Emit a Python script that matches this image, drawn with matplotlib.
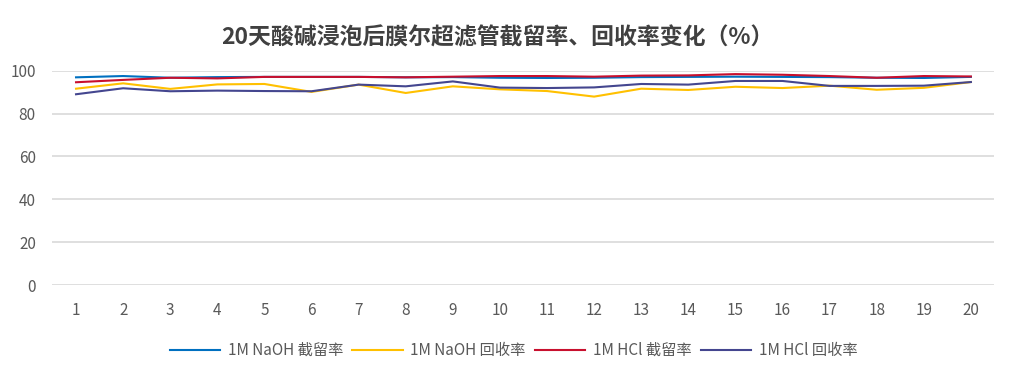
import matplotlib.pyplot as plt

plt.rcParams['font.family'] = ['Noto Sans CJK SC', 'DejaVu Sans']

# days 1..20
days = list(range(1, 21))
naoh_rej = [96.9, 97.5, 96.7, 97.0, 97.1, 97.1, 97.1, 96.9, 97.0, 96.7,
            96.6, 96.7, 97.0, 97.1, 97.2, 97.1, 97.0, 96.7, 96.6, 97.1]
naoh_rec = [91.6, 94.1, 91.5, 93.6, 93.8, 90.1, 93.5, 89.6, 92.7, 91.3,
            90.5, 87.9, 91.6, 91.0, 92.5, 91.9, 93.0, 91.1, 92.0, 94.7]
hcl_rej = [94.6, 95.7, 96.7, 96.4, 97.1, 97.1, 97.1, 96.9, 97.2, 97.5,
           97.5, 97.2, 97.7, 97.8, 98.4, 98.1, 97.5, 96.7, 97.5, 97.3]
hcl_rec = [89.0, 91.8, 90.4, 90.7, 90.5, 90.4, 93.5, 92.7, 95.0, 92.1,
           91.9, 92.2, 93.8, 93.5, 95.2, 95.2, 92.9, 92.9, 93.0, 94.7]

labels = ['1M NaOH 截留率', '1M NaOH 回收率', '1M HCl 截留率', '1M HCl 回收率']
colors = ['#0070C0', '#FFC000', '#C8102E', '#44468F']

fig = plt.figure(figsize=(10.21, 3.79), dpi=100)
ax = fig.add_axes([0.0514, 0.248, 0.9226, 0.5655])

for ys, lab, c in zip([naoh_rej, naoh_rec, hcl_rej, hcl_rec], labels, colors):
    ax.plot(days, ys, color=c, linewidth=1.5, label=lab)

ax.set_xlim(0.5, 20.5)
ax.set_ylim(0, 100)
ax.set_yticks([0, 20, 40, 60, 80, 100])
ax.set_xticks(days)
ax.grid(axis='y', color='#d9d9d9', linewidth=1.2)
ax.set_axisbelow(True)
for s in ax.spines.values():
    s.set_visible(False)
ax.tick_params(length=0, labelsize=11, colors='#595959')
ax.tick_params(axis='x', pad=12)
ax.tick_params(axis='y', pad=12)

fig.suptitle('20天酸碱浸泡后膜尔超滤管截留率、回收率变化（%）', x=0.487, y=0.93,
             fontsize=16.5, fontweight='bold', color='#404040')

fig.legend(loc='center', bbox_to_anchor=(0.503, 0.075), ncol=4, frameon=False,
           fontsize=11, handlelength=3.3, columnspacing=0.6, handletextpad=0.5,
           labelcolor='#595959')

fig.savefig('out.png', dpi=100)
